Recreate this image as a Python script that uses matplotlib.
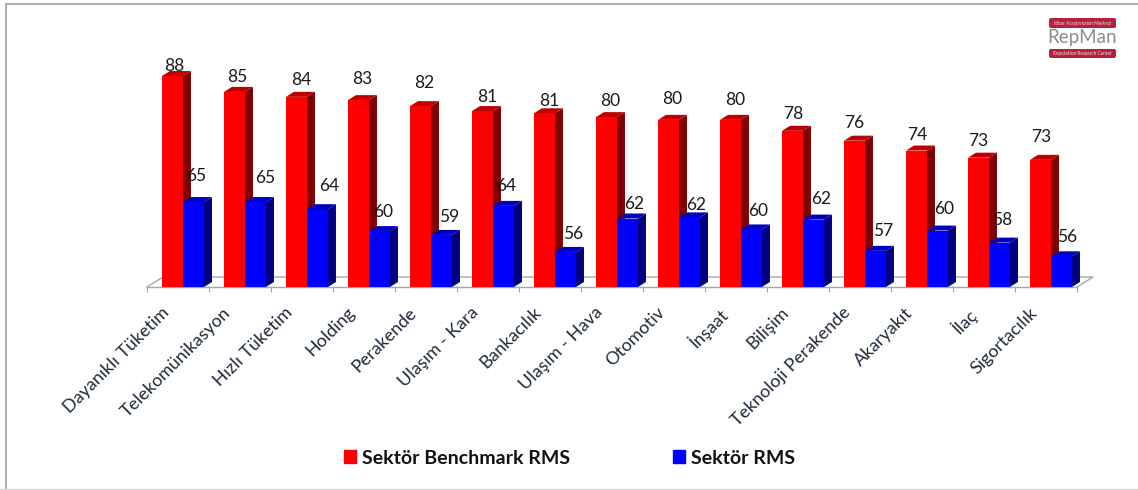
import matplotlib
matplotlib.use("Agg")
import matplotlib.pyplot as plt
from matplotlib.patches import Polygon, Patch, FancyBboxPatch

categories = ["Dayanıklı Tüketim", "Telekomünikasyon", "Hızlı Tüketim", "Holding", "Perakende",
              "Ulaşım - Kara", "Bankacılık", "Ulaşım - Hava", "Otomotiv", "İnşaat", "Bilişim",
              "Teknoloji Perakende", "Akaryakıt", "İlaç", "Sigortacılık"]
# heights, labels as printed
benchmark = [88.0, 85.1, 84.2, 83.6, 82.5, 81.6, 81.2, 80.5, 80.0, 80.0, 78.0, 76.2, 74.4, 73.1, 72.7]
sector = [65.0, 65.0, 63.7, 59.7, 59.0, 64.3, 55.9, 62.0, 62.2, 60.0, 61.8, 56.1, 59.8, 57.6, 55.1]
benchmark_labels = [88, 85, 84, 83, 82, 81, 81, 80, 80, 80, 78, 76, 74, 73, 73]
sector_labels = [65, 65, 64, 60, 59, 64, 56, 62, 62, 60, 62, 57, 60, 58, 56]

# hand placed data labels in the original, pixel offsets from the top of each bar
red_dx = [2, 3, 5, 4, 4, 5, 5, 4, 4, 5, 1, 0, 1, 0, 1]
red_dy = [10, 15, 17, 21, 23, 14, 12, 16, 21, 20, 17, 18, 16, 17, 23]
blue_dx = [3, 10, 12, 4, 8, 3, 8, 7, 7, 7, 8, 8, 7, 3, 6]
blue_dy = [26, 24, 23, 19, 18, 20, 18, 14, 12, 18, 21, 20, 22, 23, 19]

W, H = 1138, 490
PX_X, PX_Y = 62.0, 5.48
Y0 = 49.5
BAR_W = 21 / PX_X
GROUP = 0.58

plt.rcParams["font.family"] = ["Lato", "DejaVu Sans"]
fig = plt.figure(figsize=(W / 100, H / 100), dpi=100)
ax = fig.add_axes([147 / W, 203 / H, 930 / W, 249 / H])
ax.set_xlim(0, 15)
ax.set_ylim(Y0, Y0 + 249 / PX_Y)
ax.patch.set_alpha(0)
for s in ax.spines.values():
    s.set_visible(False)
ax.yaxis.set_visible(False)


def bar3d(x, top, w, front, side, roof, z):
    dx, dy = 8 / PX_X, 5 / PX_Y
    ax.bar(x, top - Y0, w, bottom=Y0, align="edge", color=front, zorder=z + 0.2, clip_on=False)
    ax.add_patch(Polygon([(x + w, Y0), (x + w + dx, Y0 + dy), (x + w + dx, top + dy), (x + w, top)],
                         facecolor=side, edgecolor="none", zorder=z, clip_on=False))
    ax.add_patch(Polygon([(x, top), (x + dx, top + dy), (x + w + dx, top + dy), (x + w, top)],
                         facecolor=roof, edgecolor="none", zorder=z + 0.1, clip_on=False))


# floor
fx, fy = 16 / PX_X, 10 / PX_Y
floor = "#a6a6a6"
ax.plot([0, fx, 15 + fx, 15], [Y0, Y0 + fy, Y0 + fy, Y0], color=floor, lw=1, zorder=1, clip_on=False)
ax.plot([0, 15], [Y0, Y0], color=floor, lw=1, zorder=1, clip_on=False)

for i in range(len(categories)):
    xr = i + GROUP - BAR_W
    xb = i + GROUP
    bar3d(xr, benchmark[i], BAR_W, "#ff0000", "#800000", "#c00000", 2 + i * 0.01)
    bar3d(xb, sector[i], BAR_W, "#0000ff", "#000080", "#0000c0", 3 + i * 0.01)
    ax.annotate(str(benchmark_labels[i]), (xr + BAR_W / 2, benchmark[i]),
                xytext=(red_dx[i], red_dy[i]), textcoords="offset pixels",
                ha="center", va="center", fontsize=12.5, color="#1a1a1a", zorder=10)
    ax.annotate(str(sector_labels[i]), (xb + BAR_W / 2, sector[i]),
                xytext=(blue_dx[i], blue_dy[i]), textcoords="offset pixels",
                ha="center", va="center", fontsize=12.5, color="#1a1a1a", zorder=10)

ax.set_xticks(range(16))
ax.set_xticklabels([])
ax.tick_params(axis="x", which="major", length=3.6, width=0.8, color=floor)
ax.set_xticks([i + 0.22 for i in range(15)], minor=True)
ax.set_xticklabels(categories, minor=True, rotation=45, ha="right", va="top",
                   rotation_mode="anchor", fontsize=12.9, color="#1f2a3a")
ax.tick_params(axis="x", which="minor", length=0, pad=12.5)

fig.legend(handles=[Patch(color="#ff0000", label="Sektör Benchmark RMS"),
                    Patch(color="#0000ff", label="Sektör RMS")],
           loc="center", bbox_to_anchor=(569.5 / W, 1 - 458 / H), ncol=2, frameon=False,
           prop={"size": 14, "weight": "bold"}, handlelength=0.62, handleheight=0.62,
           handletextpad=0.3, columnspacing=5.3, labelcolor="#111111")

# logo
fx_ax = fig.add_axes([0, 0, 1, 1], zorder=-1)
fx_ax.set_xlim(0, W)
fx_ax.set_ylim(H, 0)
fx_ax.axis("off")
for y0, y1, txt in [(18, 28, "Itibar Araştırmaları Merkezi"), (49, 58, "Reputation Research Center")]:
    fx_ax.add_patch(FancyBboxPatch((1049, y0), 67, y1 - y0, boxstyle="round,pad=0,rounding_size=2",
                                   facecolor="#b5213f", edgecolor="none"))
    fx_ax.text(1082.5, (y0 + y1) / 2, txt, color="#f0d8dc", fontsize=3.4, ha="center", va="center")
fx_ax.text(1082.5, 38, "RepMan", color="#8c8c8c", fontsize=13.5, ha="center", va="center")

# chart frame
fx_ax.plot([6, W], [4, 4], color="#a6a6a6", lw=1.3)
fx_ax.plot([6, 6], [4, H], color="#a6a6a6", lw=1.3)
fx_ax.plot([0, W], [489, 489], color="#d9d9d9", lw=1)

fig.savefig("out.png", dpi=100)
